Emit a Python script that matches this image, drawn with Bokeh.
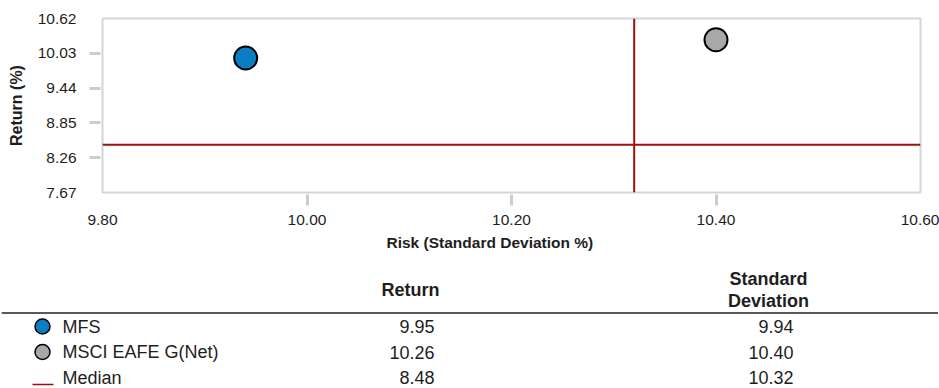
from bokeh.plotting import figure
from bokeh.models import (Range1d, LinearAxis, FixedTicker, NumeralTickFormatter,
                          Span, Title, Spacer)
from bokeh.models import ColumnDataSource
from bokeh.layouts import column, row
from bokeh.embed import file_html
from bokeh.resources import INLINE
from bokeh.core.properties import value

# ---------------- data ----------------
names = ["MFS", "MSCI EAFE G(Net)"]
returns = [9.95, 10.26]
std_devs = [9.94, 10.40]
colors = ["#0b7dc1", "#a8a8a8"]
median_label = "Median"
median_return = 8.48
median_std = 10.32
median_color = "#a10e0e"

x_ticks = [9.80, 10.00, 10.20, 10.40, 10.60]
x_tick_marks = [10.00, 10.20, 10.40]
y_ticks = [7.67, 8.26, 8.85, 9.44, 10.03, 10.62]
y_tick_marks = [8.26, 8.85, 9.44, 10.03]

x_title = "Risk (Standard Deviation %)"
y_title = "Return (%)"
col_headers = ["Return", "Standard\nDeviation"]

FONT = "Liberation Sans"
TXT = "#1e1e1e"
TICK = "#c9ccd0"

# ---------------- scatter ----------------
p = figure(width=939, height=262,
           x_range=Range1d(9.80, 10.60), y_range=Range1d(7.67, 10.62),
           x_axis_type=None, y_axis_type=None,
           toolbar_location=None, output_backend="svg",
           min_border_left=102, min_border_right=19,
           min_border_top=18, min_border_bottom=70)
p.outline_line_color = "#d3d6d9"
p.outline_line_width = 2


def make_axis(ticks, marks, standoff):
    return LinearAxis(ticker=FixedTicker(ticks=ticks, minor_ticks=marks),
                      formatter=NumeralTickFormatter(format="0.00"),
                      major_tick_in=0, major_tick_out=13,
                      major_tick_line_color=None,
                      minor_tick_in=-2, minor_tick_out=13,
                      minor_tick_line_color=TICK, minor_tick_line_width=3,
                      axis_line_color=None, major_label_standoff=standoff,
                      major_label_text_font=FONT, major_label_text_font_size="15.5px",
                      major_label_text_color=TXT)


p.add_layout(make_axis(x_ticks, x_tick_marks, 9), "below")
p.add_layout(Title(text=x_title, align="left", offset=284, standoff=8,
                   text_font=FONT, text_font_size="15.5px", text_font_style="bold",
                   text_color=TXT), "below")

yl = make_axis(y_ticks, y_tick_marks, 13)
yl.axis_label = y_title
yl.axis_label_text_font = FONT
yl.axis_label_text_font_size = "16px"
yl.axis_label_text_font_style = "bold"
yl.axis_label_text_color = TXT
yl.axis_label_standoff = 10
p.add_layout(yl, "left")

p.add_layout(Span(location=median_return, dimension="width",
                  line_color=median_color, line_width=2))
p.add_layout(Span(location=median_std, dimension="height",
                  line_color=median_color, line_width=2))

src = ColumnDataSource(dict(x=std_devs, y=returns, color=colors, name=names))
p.scatter("x", "y", source=src, size=23, fill_color="color",
          line_color="black", line_width=2)

# ---------------- table ----------------
TH = 126
t = figure(width=937, height=TH, x_range=Range1d(1, 938), y_range=Range1d(TH, 0),
           x_axis_type=None, y_axis_type=None, toolbar_location=None,
           output_backend="svg", min_border=0)
t.outline_line_color = None

hdr_y = 27
t.text(x=[410], y=[hdr_y], text=[col_headers[0]], text_align="center",
       text_baseline="middle", text_font=value(FONT), text_font_size="18px",
       text_font_style="bold", text_color=TXT)
t.text(x=[768], y=[hdr_y], text=[col_headers[1]], text_align="center",
       text_baseline="middle", text_font=value(FONT), text_font_size="18px",
       text_font_style="bold", text_color=TXT, text_line_height=1.1)
t.add_layout(Span(location=50.5, dimension="width", line_color="#222222", line_width=1.5))

row0, pitch = 64, 25.5
row_names = names + [median_label]
row_ret = returns + [median_return]
row_std = std_devs + [median_std]
row_y = [row0 + i * pitch for i in range(len(row_names))]

t.scatter(x=[42] * len(names), y=row_y[:len(names)], size=15, fill_color=colors,
          line_color="black", line_width=1.5)
t.segment(x0=[32], x1=[53], y0=[row_y[-1] + 7], y1=[row_y[-1] + 7],
          line_color=median_color, line_width=1.5)

common = dict(text_baseline="middle", text_font=value(FONT), text_font_size="18px",
              text_color=TXT)
t.text(x=[62] * len(row_names), y=row_y, text=row_names, text_align="left", **common)
t.text(x=[434] * len(row_names), y=row_y, text=[f"{v:.2f}" for v in row_ret],
       text_align="right", **common)
t.text(x=[793] * len(row_names), y=row_y, text=[f"{v:.2f}" for v in row_std],
       text_align="right", **common)

layout = column(p, row(Spacer(width=1, height=TH), t, spacing=0), spacing=0)
open("out.html", "w").write(file_html(layout, INLINE))
